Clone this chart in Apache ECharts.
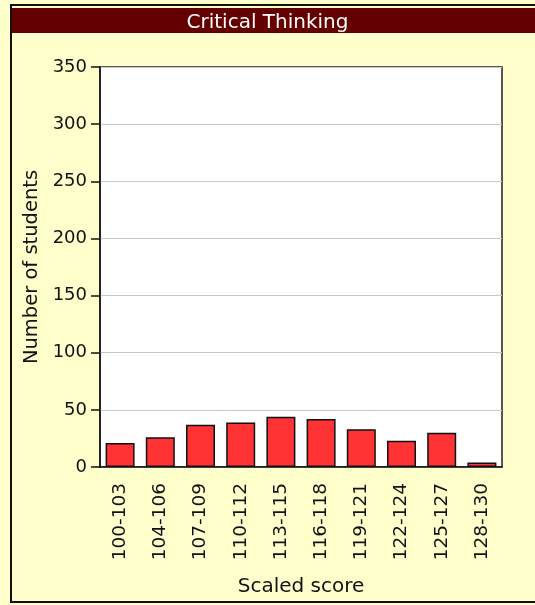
<!DOCTYPE html>
<html>
<head>
<meta charset="utf-8">
<script src="https://cdn.jsdelivr.net/npm/echarts@6/dist/echarts.min.js"></script>
<style>html,body{margin:0;padding:0;background:#FFFFCC;}#c{width:535px;height:605px;}</style>
</head>
<body>
<div id="c"></div>
<script>
var categories = ['100-103','104-106','107-109','110-112','113-115','116-118','119-121','122-124','125-127','128-130'];
var students = [21, 26, 37, 39, 44, 42, 33, 23, 30, 4];
var yTicks = {min: 0, max: 350, interval: 50};

var FONT = 'DejaVu Sans';
var chart = echarts.init(document.getElementById('c'), null, {renderer: 'canvas'});
chart.setOption({
  backgroundColor: '#FFFFCC',
  animation: false,
  graphic: [
    {type: 'rect', shape: {x: 11, y: 5, width: 540, height: 597}, style: {fill: 'none', stroke: '#111', lineWidth: 2}, z: 10},
    {type: 'rect', shape: {x: 12, y: 8, width: 530, height: 25}, style: {fill: '#640000'}, z: 5}
  ],
  title: {
    text: 'Critical Thinking',
    left: 'center',
    top: 8,
    textStyle: {color: '#ffffff', fontFamily: FONT, fontSize: 20, fontWeight: 'normal'},
    z: 20
  },
  grid: {
    left: 100, right: 33, top: 67, bottom: 138,
    show: true, backgroundColor: '#ffffff', borderColor: '#222', borderWidth: 1.5
  },
  xAxis: {
    type: 'category',
    data: categories,
    name: 'Scaled score',
    nameLocation: 'middle',
    nameGap: 110,
    nameTextStyle: {fontFamily: FONT, fontSize: 20, color: '#111'},
    axisLine: {lineStyle: {color: '#111', width: 1.5}},
    axisTick: {alignWithLabel: true, length: 7, lineStyle: {color: '#111', width: 1.5}},
    axisLabel: {rotate: 90, margin: 16, fontFamily: FONT, fontSize: 18.5, color: '#111', interval: 0}
  },
  yAxis: {
    type: 'value',
    min: yTicks.min, max: yTicks.max, interval: yTicks.interval,
    name: 'Number of students',
    nameLocation: 'middle',
    nameGap: 55,
    nameTextStyle: {fontFamily: FONT, fontSize: 19.5, color: '#111'},
    axisLine: {show: true, lineStyle: {color: '#111', width: 1.5}},
    axisTick: {show: true, length: 9, lineStyle: {color: '#111', width: 1.5}},
    axisLabel: {margin: 13, fontFamily: FONT, fontSize: 18, color: '#111'},
    splitLine: {show: true, lineStyle: {color: '#c8c8c8', width: 1}}
  },
  series: [{
    type: 'bar',
    data: students,
    barWidth: 29,
    itemStyle: {color: '#FF3333', borderColor: '#111', borderWidth: 1.5}
  }]
});
</script>
</body>
</html>
